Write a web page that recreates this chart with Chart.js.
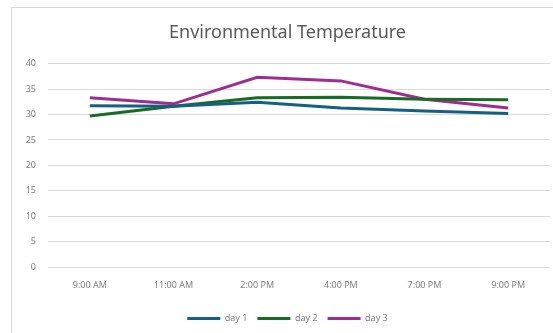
<!DOCTYPE html>
<html>
<head>
<meta charset="utf-8">
<script src="https://cdn.jsdelivr.net/npm/chart.js@4.4.1/dist/chart.umd.min.js"></script>
<style>
  html, body { margin: 0; padding: 0; background: #fff; overflow: hidden; }
  #frame { position: absolute; left: 11px; top: 7px; width: 560px; height: 340px; border: 1px solid #d9d9d9; }
  #wrap { position: absolute; left: 25px; top: 0; width: 525px; height: 333px; }
</style>
</head>
<body>
<div id="frame"></div>
<div id="wrap"><canvas id="tempChart" width="525" height="333"></canvas></div>
<script>
// data
const times = ['9:00 AM', '11:00 AM', '2:00 PM', '4:00 PM', '7:00 PM', '9:00 PM'];
const day1 = [31.7, 31.6, 32.4, 31.3, 30.7, 30.2];
const day2 = [29.7, 31.6, 33.3, 33.4, 33.0, 32.9];
const day3 = [33.3, 32.1, 37.3, 36.6, 33.0, 31.3];
const yTicks = [0, 5, 10, 15, 20, 25, 30, 35, 40];

const gray = '#7f7f7f';
const font = "'Noto Sans', sans-serif";

function line(label, data, color) {
    return {
        label: label,
        data: data,
        borderColor: color,
        backgroundColor: color,
        borderWidth: 3,
        pointRadius: 0,
        tension: 0,
        fill: false
    };
}

const ctx = document.getElementById('tempChart').getContext('2d');
const tempChart = new Chart(ctx, {
    type: 'line',
    data: {
        labels: times,
        datasets: [
            line('day 1', day1, '#156082'),
            line('day 2', day2, '#196B24'),
            line('day 3', day3, '#A02B93')
        ]
    },
    options: {
        responsive: false,
        animation: false,
        layout: { padding: { top: 22, right: 0, bottom: 0, left: 0 } },
        plugins: {
            title: {
                display: true,
                text: 'Environmental Temperature',
                color: '#595959',
                font: { family: font, size: 18, weight: 'normal' },
                padding: { top: 0, bottom: 20 }
            },
            legend: {
                position: 'bottom',
                labels: {
                    color: gray,
                    font: { family: font, size: 9 },
                    boxWidth: 33,
                    boxHeight: 3,
                    padding: 10,
                    generateLabels: function (chart) {
                        // keep the legend swatch a plain thin bar
                        return Chart.defaults.plugins.legend.labels.generateLabels(chart)
                            .map(item => Object.assign(item, { lineWidth: 0 }));
                    }
                }
            },
            tooltip: { enabled: false }
        },
        scales: {
            x: {
                offset: true,
                grid: { display: false, drawTicks: false },
                border: { display: false },
                ticks: { color: gray, font: { family: font, size: 9 }, padding: 13, maxRotation: 0 }
            },
            y: {
                min: 0,
                max: 40,
                afterFit: function (s) { s.width = 23; },
                afterBuildTicks: function (s) { s.ticks = yTicks.map(v => ({ value: v })); },
                grid: { color: '#d9d9d9', lineWidth: 1, drawTicks: false },
                border: { display: false },
                ticks: { color: gray, font: { family: font, size: 9 }, padding: 12 }
            }
        }
    }
});
</script>
</body>
</html>
